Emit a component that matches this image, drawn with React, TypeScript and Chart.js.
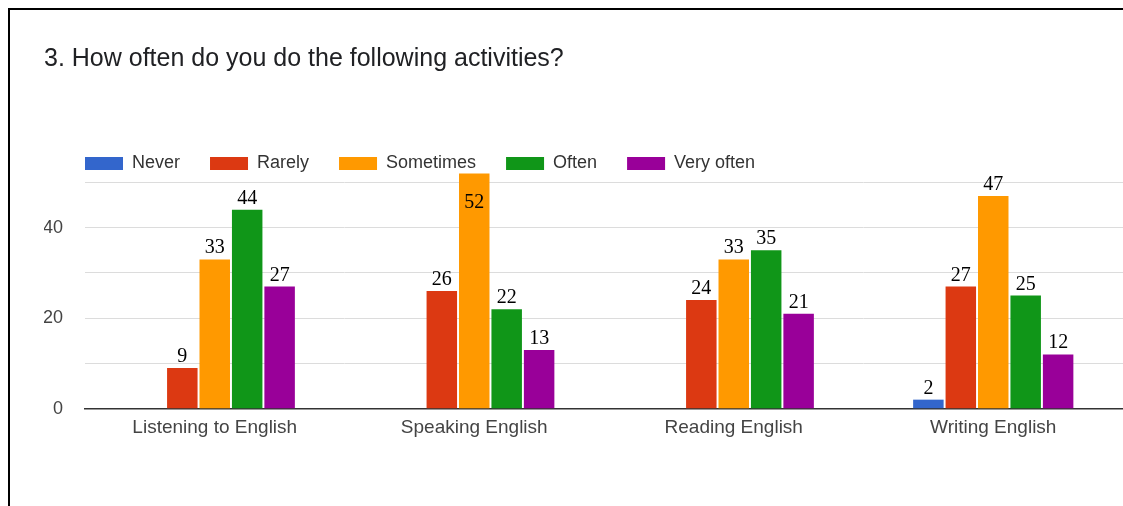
import React, { useEffect, useRef } from "react";
import { Chart, registerables } from "chart.js";

Chart.register(...registerables);

const categories = ["Listening to English", "Speaking English", "Reading English", "Writing English"];
const seriesNames = ["Never", "Rarely", "Sometimes", "Often", "Very often"];
const never = [0, 0, 0, 2];
const rarely = [9, 26, 24, 27];
const sometimes = [33, 52, 33, 47];
const often = [44, 22, 35, 25];
const veryOften = [27, 13, 21, 12];
const seriesColors = ["#3366cc", "#dc3912", "#ff9900", "#109618", "#990099"];
const yTickLabels = [0, 20, 40];
const titleText = "3. How often do you do the following activities?";

const valueLabelPlugin = {
  id: "valueLabels",
  afterDatasetsDraw(chart: any) {
    const ctx = chart.ctx;
    const area = chart.chartArea;
    ctx.save();
    ctx.font = "20px 'Liberation Serif', 'Times New Roman', serif";
    ctx.fillStyle = "#000";
    ctx.textAlign = "center";
    ctx.textBaseline = "alphabetic";
    chart.data.datasets.forEach((ds: any, di: number) => {
      const meta = chart.getDatasetMeta(di);
      meta.data.forEach((bar: any, i: number) => {
        const v = ds.data[i];
        if (!v) return;
        let y = bar.y - 6;
        if (bar.y < area.top) y = bar.y + 35;
        ctx.fillText(String(v), bar.x, y);
      });
    });
    ctx.restore();
  },
};

const legendShiftPlugin = {
  id: "legendShift",
  afterLayout(chart: any) {
    if (chart.legend) chart.legend.left += 11;
  },
};

export default function App() {
  const canvasRef = useRef<HTMLCanvasElement | null>(null);

  useEffect(() => {
    const series = [never, rarely, sometimes, often, veryOften];
    const chart = new Chart(canvasRef.current as HTMLCanvasElement, {
      type: "bar",
      data: {
        labels: categories,
        datasets: series.map((d, i) => ({
          label: seriesNames[i],
          data: d,
          backgroundColor: seriesColors[i],
          borderWidth: 0,
          clip: false as any,
          categoryPercentage: 0.625,
          barPercentage: 0.94,
        })),
      },
      options: {
        animation: false,
        responsive: true,
        maintainAspectRatio: false,
        layout: { padding: { left: 34, right: 0, top: 0, bottom: 58.5 } },
        plugins: {
          title: {
            display: true,
            text: titleText,
            align: "start",
            color: "#202124",
            font: { family: "'Liberation Sans', Arial, sans-serif", size: 25, weight: "normal" },
            padding: { top: 34, bottom: 50.5 },
          },
          legend: {
            display: true,
            position: "top",
            align: "start",
            labels: {
              boxWidth: 38,
              boxHeight: 13,
              padding: 30,
              color: "#333",
              font: { family: "'Liberation Sans', Arial, sans-serif", size: 18 },
            },
          },
          tooltip: { enabled: false },
        },
        scales: {
          x: {
            grid: { display: false, drawTicks: false },
            border: { display: true, color: "#333", width: 1.5 },
            ticks: {
              color: "#444",
              padding: 8,
              font: { family: "'Liberation Sans', Arial, sans-serif", size: 19 },
            },
          },
          y: {
            min: 0,
            max: 50,
            grid: { color: "#dcdcdc", drawTicks: false, lineWidth: 1 },
            border: { display: false },
            afterFit: (scale: any) => {
              scale.width = 41;
            },
            ticks: {
              stepSize: 10,
              padding: 22,
              color: "#444",
              font: { family: "'Liberation Sans', Arial, sans-serif", size: 18 },
              callback: (v: any) => (yTickLabels.includes(Number(v)) ? String(v) : ""),
            },
          },
        },
      },
      plugins: [valueLabelPlugin, legendShiftPlugin],
    });
    return () => chart.destroy();
  }, []);

  return (
    <div
      style={{
        position: "fixed",
        left: 8,
        top: 8,
        width: 1115,
        height: 498,
        borderLeft: "2px solid #000",
        borderTop: "2px solid #000",
        boxSizing: "border-box",
        background: "#fff",
        overflow: "hidden",
      }}
    >
      <div style={{ position: "relative", width: 1113, height: 496 }}>
        <canvas ref={canvasRef} />
      </div>
    </div>
  );
}
